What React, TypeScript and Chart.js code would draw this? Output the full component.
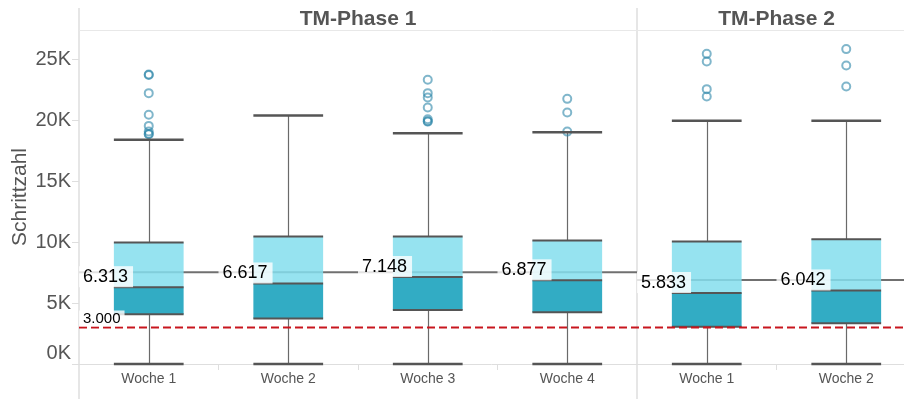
import { useEffect, useRef } from 'react';
import { Chart, registerables } from 'chart.js';

Chart.register(...registerables);

// ---------- data ----------
const panels = ['TM-Phase 1', 'TM-Phase 2'];
const panelWeekCounts = [4, 2];
const categories = ['Woche 1', 'Woche 2', 'Woche 3', 'Woche 4', 'Woche 1', 'Woche 2'];
const lowerWhisker = [0, 0, 0, 0, 0, 0];
const q1 = [4090, 3730, 4440, 4250, 3070, 3350];
const median = [6313, 6617, 7148, 6877, 5833, 6042];
const q3 = [9980, 10470, 10470, 10140, 10060, 10250];
const upperWhisker = [18420, 20420, 18970, 19050, 20000, 20000];
const outliers = [
  [23800, 23750, 22260, 20480, 19570, 19100, 18900, 18880],
  [],
  [23360, 22260, 21900, 21080, 20120, 19950, 19920],
  [21790, 20670, 19100],
  [25490, 24860, 22590, 21980],
  [25880, 24530, 22800],
];
const panelReference = [7540, 6900];
const threshold = 3000;
const yTicks = [0, 5000, 10000, 15000, 20000, 25000];
const yAxisTitle = 'Schrittzahl';

// ---------- styling ----------
const FONT = '"Liberation Sans", Arial, Helvetica, sans-serif';
const LIGHT_BOX = 'rgba(132,222,237,0.85)';
const DARK_BOX = 'rgba(14,158,186,0.85)';
const TEXT_GRAY = '#555555';
const FRAME = '#dedede';

function fmt(v: number): string {
  return String(Math.round(v)).replace(/\B(?=(\d{3})+(?!\d))/g, '.');
}

function panelBounds(): number[] {
  const b = [0];
  panelWeekCounts.forEach((n) => b.push(b[b.length - 1] + n));
  return b;
}

function hLine(ctx: CanvasRenderingContext2D, x1: number, x2: number, yy: number) {
  ctx.beginPath();
  ctx.moveTo(x1, yy);
  ctx.lineTo(x2, yy);
  ctx.stroke();
}
function vLine(ctx: CanvasRenderingContext2D, xx: number, y1: number, y2: number) {
  ctx.beginPath();
  ctx.moveTo(xx, y1);
  ctx.lineTo(xx, y2);
  ctx.stroke();
}

const decorPlugin = {
  id: 'boxDecor',
  beforeDatasetsDraw(chart: any) {
    const { ctx, chartArea: ca, scales } = chart;
    const x = scales.x;
    const y = scales.y;
    const bounds = panelBounds();
    ctx.save();
    // frame lines
    ctx.strokeStyle = FRAME;
    ctx.lineWidth = 1.5;
    for (let k = 0; k < bounds.length - 1; k++) {
      const px = x.getPixelForValue(bounds[k]);
      vLine(ctx, px, 8, chart.height);
    }
    ctx.lineWidth = 1;
    ctx.strokeStyle = '#e8e8e8';
    hLine(ctx, ca.left, chart.width, ca.top + 0.5);
    ctx.strokeStyle = FRAME;
    hLine(ctx, ca.left, chart.width, ca.bottom + 0.5);
    // category ticks inside panels
    for (let i = 1; i < categories.length; i++) {
      if (bounds.includes(i)) continue;
      const px = Math.round(x.getPixelForValue(i)) + 0.5;
      vLine(ctx, px, ca.bottom, ca.bottom + 6);
    }
    // panel reference lines
    ctx.strokeStyle = '#707070';
    ctx.lineWidth = 2;
    for (let k = 0; k < panels.length; k++) {
      const yy = y.getPixelForValue(panelReference[k]);
      hLine(ctx, x.getPixelForValue(bounds[k]), x.getPixelForValue(bounds[k + 1]), yy);
    }
    // whiskers
    ctx.strokeStyle = '#6a6a6a';
    ctx.lineWidth = 1.2;
    for (let i = 0; i < categories.length; i++) {
      const cx = Math.round(x.getPixelForValue(i + 0.5)) + 0.5;
      vLine(ctx, cx, y.getPixelForValue(upperWhisker[i]), y.getPixelForValue(q3[i]));
      vLine(ctx, cx, y.getPixelForValue(q1[i]), y.getPixelForValue(lowerWhisker[i]));
    }
    ctx.restore();
  },
  afterDatasetsDraw(chart: any) {
    const { ctx, chartArea: ca, scales } = chart;
    const x = scales.x;
    const y = scales.y;
    ctx.save();
    // box lines and caps
    ctx.strokeStyle = '#555555';
    for (let i = 0; i < categories.length; i++) {
      const cx = x.getPixelForValue(i + 0.5);
      const half = (x.getPixelForValue(i + 1) - x.getPixelForValue(i)) * 0.25;
      ctx.lineWidth = 2;
      [q1[i], median[i], q3[i]].forEach((v) => hLine(ctx, cx - half, cx + half, y.getPixelForValue(v)));
      ctx.lineWidth = 2.5;
      [lowerWhisker[i], upperWhisker[i]].forEach((v) => hLine(ctx, cx - half, cx + half, y.getPixelForValue(v)));
    }
    // threshold line
    const ty = y.getPixelForValue(threshold);
    ctx.strokeStyle = '#c8161e';
    ctx.lineWidth = 2;
    ctx.setLineDash([8, 4]);
    hLine(ctx, ca.left, chart.width, ty);
    ctx.setLineDash([]);
    // threshold label
    ctx.font = `15px ${FONT}`;
    ctx.textBaseline = 'alphabetic';
    ctx.textAlign = 'left';
    const tl = fmt(threshold);
    const tw = ctx.measureText(tl).width;
    ctx.fillStyle = 'rgba(255,255,255,0.8)';
    ctx.fillRect(ca.left, ty - 17, tw + 8, 16);
    ctx.fillStyle = '#000';
    ctx.fillText(tl, ca.left + 4, ty - 4);
    // median labels
    ctx.font = `18px ${FONT}`;
    ctx.textBaseline = 'middle';
    for (let i = 0; i < categories.length; i++) {
      const left = x.getPixelForValue(i);
      const my = y.getPixelForValue(median[i]);
      const label = fmt(median[i]);
      const w = ctx.measureText(label).width;
      ctx.fillStyle = 'rgba(255,255,255,0.8)';
      ctx.fillRect(left, my - 21, w + 9, 21);
      ctx.fillStyle = '#000';
      ctx.fillText(label, left + 4, my - 10);
    }
    ctx.restore();
  },
  afterDraw(chart: any) {
    const { ctx, chartArea: ca, scales } = chart;
    const x = scales.x;
    const bounds = panelBounds();
    ctx.save();
    ctx.font = `bold 21px ${FONT}`;
    ctx.fillStyle = TEXT_GRAY;
    ctx.textAlign = 'center';
    ctx.textBaseline = 'middle';
    for (let k = 0; k < panels.length; k++) {
      const cx = (x.getPixelForValue(bounds[k]) + x.getPixelForValue(bounds[k + 1])) / 2;
      ctx.fillText(panels[k], cx, ca.top / 2 + 4);
    }
    ctx.restore();
  },
};

export default function App() {
  const ref = useRef<HTMLCanvasElement>(null);
  useEffect(() => {
    if (!ref.current) return;
    const boxLower = categories.map((_, i) => ({ x: i + 0.5, y: [q1[i], median[i]] }));
    const boxUpper = categories.map((_, i) => ({ x: i + 0.5, y: [median[i], q3[i]] }));
    const outlierPoints = outliers.flatMap((arr, i) => arr.map((v) => ({ x: i + 0.5, y: v })));
    const xMax = 5.914;
    const chart = new Chart(ref.current, {
      type: 'bar',
      data: {
        datasets: [
          {
            type: 'scatter',
            data: outlierPoints as any,
            pointRadius: 4,
            pointHoverRadius: 4,
            borderWidth: 2,
            borderColor: 'rgba(43,133,168,0.6)',
            backgroundColor: 'rgba(0,0,0,0)',
          } as any,
          {
            data: boxUpper as any,
            backgroundColor: LIGHT_BOX,
            borderWidth: 0,
            grouped: false,
            categoryPercentage: 1,
            barPercentage: 0.5,
          } as any,
          {
            data: boxLower as any,
            backgroundColor: DARK_BOX,
            borderWidth: 0,
            grouped: false,
            categoryPercentage: 1,
            barPercentage: 0.5,
          } as any,
        ],
      },
      options: {
        animation: false,
        responsive: false,
        maintainAspectRatio: false,
        layout: { autoPadding: false, padding: { top: 30, left: 0, right: 0, bottom: 0 } },
        plugins: { legend: { display: false }, tooltip: { enabled: false } },
        scales: {
          x: {
            type: 'linear',
            min: 0,
            max: xMax,
            offset: false,
            grid: { display: false, drawTicks: false, offset: false },
            border: { display: false },
            afterBuildTicks: (s: any) => {
              s.ticks = categories.map((_, i) => ({ value: i + 0.5 }));
            },
            afterFit: (s: any) => {
              s.height = 35;
              s.paddingLeft = 0;
              s.paddingRight = 0;
            },
            ticks: {
              autoSkip: false,
              maxRotation: 0,
              padding: 7,
              color: TEXT_GRAY,
              font: { family: FONT, size: 14 },
              callback: (v: any) => categories[Math.floor(Number(v))] ?? '',
            },
          },
          y: {
            type: 'linear',
            min: 0,
            max: 27450,
            stacked: false,
            afterBuildTicks: (s: any) => {
              s.ticks = yTicks.map((v) => ({ value: v }));
            },
            afterFit: (s: any) => {
              s.width = 79;
            },
            grid: { drawOnChartArea: false, drawTicks: true, tickLength: 7, color: FRAME },
            border: { display: false },
            ticks: {
              padding: 1,
              color: TEXT_GRAY,
              font: { family: FONT, size: 20, lineHeight: 1.1 },
              callback: (v: any) => {
                const t = `${Number(v) / 1000}K`;
                return Number(v) === 0 ? [t, ''] : t;
              },
            },
            title: {
              display: true,
              text: yAxisTitle,
              color: TEXT_GRAY,
              font: { family: FONT, size: 21 },
              padding: { top: 8, bottom: 0 },
            },
          },
        },
      } as any,
      plugins: [decorPlugin as any],
    });
    return () => chart.destroy();
  }, []);
  return (
    <div style={{ position: 'fixed', left: 0, top: 0, width: 904, height: 399, background: '#fff', overflow: 'hidden' }}>
      <canvas ref={ref} width={904} height={399} style={{ display: 'block' }} />
    </div>
  );
}
